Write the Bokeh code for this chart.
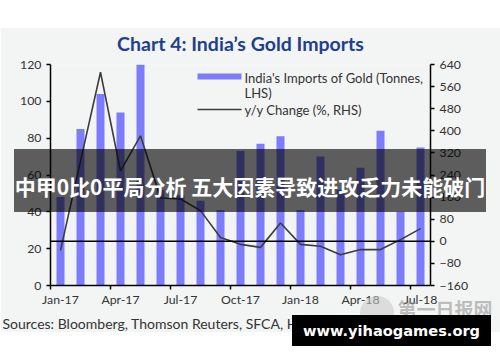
from bokeh.plotting import figure
from bokeh.models import (Range1d, LinearAxis, FixedTicker, Span, Label, BoxAnnotation,
                          ColumnDataSource, CustomJSTickFormatter, Title, Div)
from bokeh.layouts import column
from bokeh.embed import file_html
from bokeh.resources import INLINE

months = ["Jan-17", "Feb-17", "Mar-17", "Apr-17", "May-17", "Jun-17", "Jul-17", "Aug-17",
          "Sep-17", "Oct-17", "Nov-17", "Dec-17", "Jan-18", "Feb-18", "Mar-18", "Apr-18",
          "May-18", "Jun-18", "Jul-18"]
imports_tonnes = [48, 85, 104, 94, 120, 52, 49, 46, 41, 73, 77, 81, 41, 70, 52, 64, 84, 40, 75]
yoy_change = [-33, 290, 612, 255, 382, 157, 153, 111, 14, -11, -22, 66, -11, -18, -49, -30, -30, 6, 46]
label_months = ["Jan-17", "Apr-17", "Jul-17", "Oct-17", "Jan-18", "Apr-18", "Jul-18"]
left_ticks = [0, 20, 40, 60, 80, 100, 120]
right_ticks = [-160, -80, 0, 80, 160, 240, 320, 400, 480, 560, 640]

FONT = "Lato"
TXT = "#333333"
BG = "#f3f4f4"
W, H = 500, 362

xs = [i + 0.5 for i in range(len(months))]
src = ColumnDataSource(dict(x=xs, imp=imports_tonnes, yoy=yoy_change, m=months))

p = figure(width=W, height=H, x_range=Range1d(0, len(months)), y_range=Range1d(0, 120),
           output_backend="svg", toolbar_location=None,
           min_border_left=50, min_border_right=70, min_border_top=64, min_border_bottom=77)
p.extra_y_ranges = {"right": Range1d(-160, 640)}
p.border_fill_color = BG
p.background_fill_color = BG
p.outline_line_color = None
p.xgrid.grid_line_color = None
p.ygrid.grid_line_color = None

p.title.text = "Chart 4: India\u2019s Gold Imports"
p.title.align = "center"
p.title.offset = 3
p.title.standoff = 20
p.title.text_font = FONT
p.title.text_font_style = "bold"
p.title.text_font_size = "19.5px"
p.title.text_color = "#1d3f8e"

p.vbar(x="x", top="imp", width=0.4, source=src, fill_color="#7d7dfb", line_color=None)
p.line(x="x", y="yoy", source=src, y_range_name="right", line_color="#3c3c3c", line_width=1.6)
p.add_layout(Span(location=0, dimension="width", y_range_name="right",
                  line_color="black", line_width=1.5))

def style(ax):
    ax.axis_line_color = "black"
    ax.axis_line_width = 1.5
    ax.major_tick_line_color = "black"
    ax.major_tick_line_width = 1.5
    ax.major_tick_in = 0
    ax.major_tick_out = 4
    ax.minor_tick_line_color = None
    ax.major_label_text_font = FONT
    ax.major_label_text_font_size = "12.3px"
    ax.major_label_text_color = TXT
    ax.major_label_standoff = 5

ly = p.yaxis[0]
ly.ticker = FixedTicker(ticks=left_ticks)
style(ly)

ry = LinearAxis(y_range_name="right", ticker=FixedTicker(ticks=right_ticks))
style(ry)
p.add_layout(ry, "right")

# x axis: tick marks at month boundaries, labels centred on the bars
lx = p.xaxis[0]
lx.ticker = FixedTicker(ticks=[months.index(m) for m in label_months])
style(lx)
lx.formatter = CustomJSTickFormatter(code="return ''")
lx.major_label_standoff = 0

lab = LinearAxis(ticker=FixedTicker(ticks=[months.index(m) + 0.5 for m in label_months]),
                 formatter=CustomJSTickFormatter(args=dict(labels=months),
                                                 code="return labels[Math.floor(tick)]"))
style(lab)
lab.axis_line_color = None
lab.major_tick_line_color = None
lab.major_tick_out = 0
lab.major_label_standoff = 2
p.add_layout(lab, "below")

src_title = Title(text="Sources: Bloomberg, Thomson Reuters, SFCA, HKCSD, CE", align="left",
                  offset=-48, standoff=6, text_font=FONT, text_font_size="14px",
                  text_font_style="normal", text_color=TXT)
p.add_layout(src_title, "below")

# legend (inside the frame)
p.add_layout(BoxAnnotation(left=197, right=241, top=73, bottom=79, left_units="canvas",
                           right_units="canvas", top_units="canvas", bottom_units="canvas",
                           fill_color="#7d7dfb", fill_alpha=1, line_color=None))
p.add_layout(BoxAnnotation(left=197, right=241, top=108.2, bottom=109.8, left_units="canvas",
                           right_units="canvas", top_units="canvas", bottom_units="canvas",
                           fill_color="#3c3c3c", fill_alpha=1, line_color=None))
for t, yy in [("India's Imports of Gold (Tonnes,", 77), ("LHS)", 92), ("y/y Change (%, RHS)", 109)]:
    p.add_layout(Label(x=244, y=yy, x_units="canvas", y_units="canvas", text=t,
                       text_font=FONT, text_font_size="13px", text_color=TXT,
                       text_align="left", text_baseline="middle"))

# page overlays (white margins, banner, watermark)
overlay = f"""
<div style="position:relative; top:-{H}px; left:0; width:{W}px; height:{H}px; z-index:10; pointer-events:none; overflow:hidden;">
 <div style="position:absolute; left:0; top:0; width:{W}px; height:28px; background:#ffffff;"></div>
 <div style="position:absolute; left:0; top:332px; width:{W}px; height:30px; background:#ffffff;"></div>
 <div style="position:absolute; left:14px; top:149px; width:472px; height:63px; background:rgba(0,0,0,0.62);"></div>
 <div style="position:absolute; left:14px; top:174px; width:472px; height:24px; line-height:24px; text-align:center; color:#ffffff; font-family:'Noto Sans CJK SC'; font-weight:bold; font-size:21px; white-space:nowrap;">中甲0比0平局分析 五大因素导致进攻乏力未能破门</div>
 <div style="position:absolute; left:360px; top:296px; width:34px; height:34px; border-radius:17px; background:rgba(200,200,200,0.55);"></div>
 <div style="position:absolute; left:395px; top:298px; width:100px; height:22px; line-height:22px; text-align:center; color:rgba(140,140,140,0.55); font-family:'Noto Sans CJK SC'; font-weight:bold; font-size:19px; white-space:nowrap;">第一日报网</div>
 <div style="position:absolute; left:292px; top:315px; width:199px; height:31px; background:#000000;"></div>
 <div style="position:absolute; left:292px; top:315px; width:199px; height:31px; line-height:31px; text-align:center; color:#ffffff; font-family:'DejaVu Sans'; font-weight:bold; font-size:14.6px; white-space:nowrap;">www.yihaogames.org</div>
</div>
"""
div = Div(text=overlay, width=W, height=0, margin=0)
p.margin = 0

layout = column(p, div, spacing=0)
open("out.html", "w").write(file_html(layout, INLINE))
